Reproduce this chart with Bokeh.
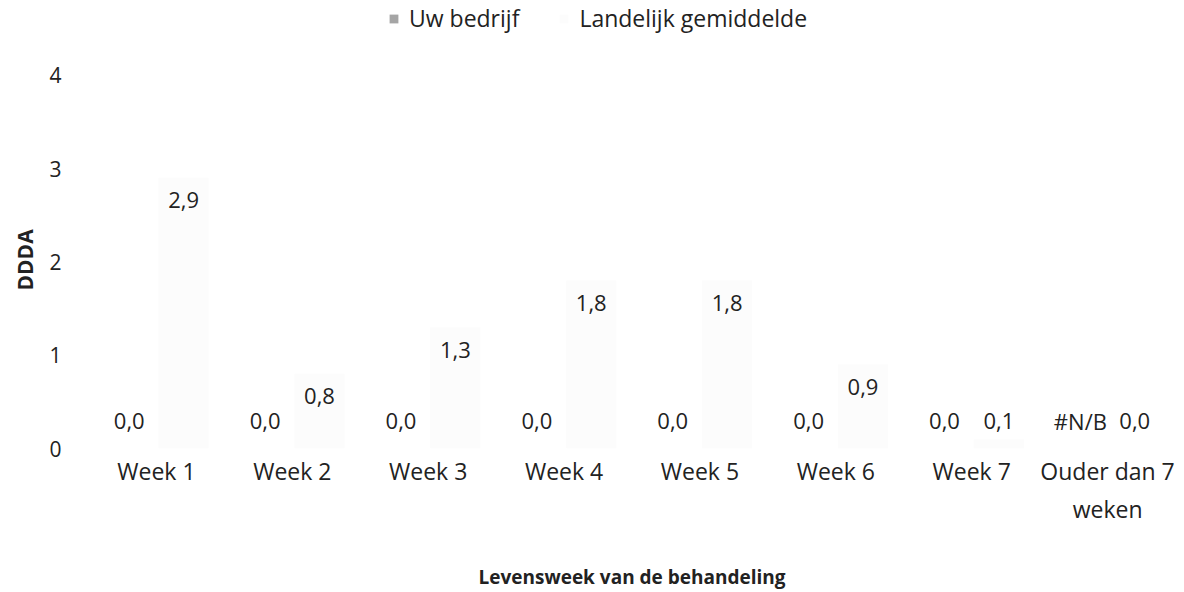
import math
from bokeh.plotting import figure
from bokeh.models import (ColumnDataSource, FactorRange, FixedTicker, Legend, LegendItem,
                          CustomJSTickFormatter, Title)
from bokeh.transform import dodge
from bokeh.core.properties import value
from bokeh.embed import file_html
from bokeh.resources import INLINE

# ---- data ----
categories = ["Week 1", "Week 2", "Week 3", "Week 4", "Week 5", "Week 6", "Week 7", "Ouder dan 7 weken"]
category_display = {"Ouder dan 7 weken": "Ouder dan 7\nweken"}
uw_bedrijf = [0.0, 0.0, 0.0, 0.0, 0.0, 0.0, 0.0, None]
landelijk = [2.9, 0.8, 1.3, 1.8, 1.8, 0.9, 0.1, 0.0]
y_ticks = [0, 1, 2, 3, 4]
series_names = ["Uw bedrijf", "Landelijk gemiddelde"]

FONT = "Open Sans"
TXT = "#222222"


def fmt(v):
    return "#N/B" if v is None else f"{v:.1f}".replace(".", ",")


def label_pos(v):
    v = 0.0 if v is None else v
    return max(v - 0.24, 0.30)


src = ColumnDataSource(dict(
    cat=categories,
    uw=[0.0 if v is None else v for v in uw_bedrijf],
    la=landelijk,
    uw_txt=[fmt(v) for v in uw_bedrijf],
    la_txt=[fmt(v) for v in landelijk],
    uw_y=[label_pos(v) for v in uw_bedrijf],
    la_y=[label_pos(v) for v in landelijk],
))

# frame reaches the top of the canvas so the legend can sit inside it above the "4" tick
p = figure(
    x_range=FactorRange(*categories, range_padding=0),
    y_range=(0, 4.8),
    width=1184, height=592,
    output_backend="svg", toolbar_location=None,
    min_border_left=84, min_border_right=9, min_border_top=0, min_border_bottom=144,
)
p.outline_line_color = None
p.background_fill_color = "white"
p.border_fill_color = "white"
p.xgrid.grid_line_color = None
p.ygrid.grid_line_color = None

r_uw = p.vbar(x=dodge("cat", -0.2, range=p.x_range), top="uw", width=0.37, source=src,
              fill_color="#a5a5a5", line_color=None)
r_la = p.vbar(x=dodge("cat", 0.2, range=p.x_range), top="la", width=0.37, source=src,
              fill_color="#fcfcfc", line_color=None)

for xoff, ycol, tcol in [(-0.2, "uw_y", "uw_txt"), (0.2, "la_y", "la_txt")]:
    p.text(x=dodge("cat", xoff, range=p.x_range), y=ycol, text=tcol, source=src,
           text_font=value(FONT), text_font_size="22px", text_color=TXT,
           text_align="center", text_baseline="middle")

# y axis
p.yaxis.ticker = FixedTicker(ticks=y_ticks)
p.yaxis.axis_line_color = None
p.yaxis.major_tick_line_color = None
p.yaxis.minor_tick_line_color = None
p.yaxis.major_label_text_font = FONT
p.yaxis.major_label_text_font_size = "21px"
p.yaxis.major_label_text_color = TXT
p.yaxis.major_label_standoff = 21

# y axis title, centred on the 0-4 part of the axis
p.add_layout(Title(text="DDDA", align="left", offset=158, standoff=16,
                   text_font=FONT, text_font_size="21px", text_font_style="bold",
                   text_color=TXT), "left")

# x axis
xa = p.xaxis[0]
xa.axis_line_color = None
xa.major_tick_line_color = None
xa.minor_tick_line_color = None
xa.major_label_text_font = FONT
xa.major_label_text_font_size = "23px"
xa.major_label_text_color = TXT
xa.major_label_standoff = 0
xa.formatter = CustomJSTickFormatter(args=dict(names=category_display),
                                     code="return (tick in names) ? names[tick] : tick;")
xa.axis_label = "Levensweek van de behandeling"
xa.axis_label_text_font = FONT
xa.axis_label_text_font_style = "bold"
xa.axis_label_text_font_size = "19px"
xa.axis_label_text_color = TXT
xa.axis_label_standoff = 36

legend = Legend(
    items=[LegendItem(label=series_names[0], renderers=[r_uw]),
           LegendItem(label=series_names[1], renderers=[r_la])],
    orientation="horizontal", location=(300, 414),
    label_text_font=FONT, label_text_font_size="23px", label_text_color=TXT,
    glyph_width=11, glyph_height=11, label_standoff=10, spacing=39,
    padding=0, margin=0, border_line_color=None, background_fill_alpha=0,
)
p.add_layout(legend, "center")

open("out.html", "w").write(file_html(p, INLINE))
